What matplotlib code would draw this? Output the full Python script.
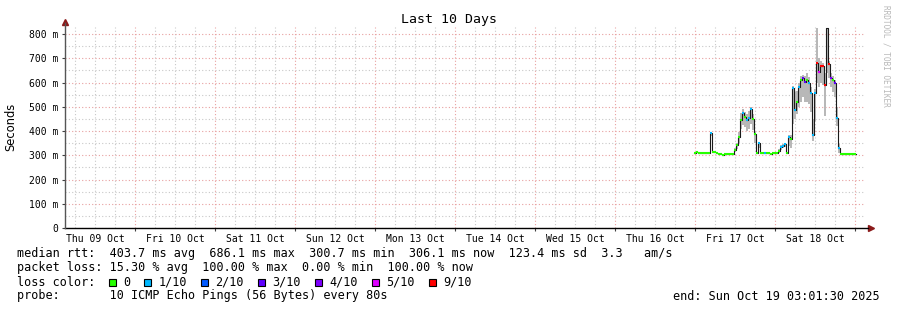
import matplotlib
matplotlib.use("Agg")
from matplotlib import pyplot as plt
from matplotlib.patches import Rectangle
from matplotlib.ticker import MultipleLocator, FuncFormatter
import numpy as np

# x axis in hours since Thu 09 Oct 00:00
t_start = 3.025     # Thu 09 Oct 03:01:30
t_end = 243.025     # Sun 19 Oct 03:01:30
day_labels = ["Thu 09 Oct", "Fri 10 Oct", "Sat 11 Oct", "Sun 12 Oct", "Mon 13 Oct",
              "Tue 14 Oct", "Wed 15 Oct", "Thu 16 Oct", "Fri 17 Oct", "Sat 18 Oct"]

# samples, one every 36 minutes from 191.7 h
t0 = 191.7
step = 0.6
median = [310, 312, 310, 311, 309, 308, 309, 310, 390, 312,
          313, 309, 307, 305, 302, 306, 305, 306, 305, 304,
          322, 342, 377, 445, 475, 459, 445, 455, 489, 450,
          388, 308, 349, 308, 308, 310, 308, 310, 306, 308,
          309, 308, 318, 335, 340, 346, 308, 377, 366, 576,
          487, 520, 583, 610, 617, 603, 612, 600, 555, 383,
          555, 682, 645, 668, 668, 590, 823, 675, 618, 610,
          597, 455, 330, 306, 305, 306, 305, 306, 305, 306, 305]
smoke_lo = [308, 308, 307, 308, 306, 305, 306, 307, 380, 309,
            310, 306, 304, 302, 299, 303, 302, 303, 302, 301,
            315, 325, 350, 410, 425, 415, 400, 410, 430, 405,
            350, 305, 330, 305, 305, 306, 305, 307, 303, 305,
            306, 305, 310, 322, 328, 335, 305, 340, 330, 430,
            450, 470, 500, 520, 540, 520, 520, 510, 480, 360,
            440, 600, 580, 600, 590, 460, 640, 620, 580, 560,
            540, 420, 310, 303, 302, 303, 302, 303, 302, 303, 302]
smoke_hi = [314, 314, 313, 314, 312, 311, 312, 313, 395, 316,
            316, 312, 310, 308, 305, 309, 308, 309, 308, 307,
            330, 352, 395, 475, 492, 480, 470, 482, 500, 470,
            400, 312, 355, 312, 312, 314, 312, 314, 310, 312,
            313, 312, 325, 342, 348, 352, 312, 385, 385, 585,
            560, 565, 600, 625, 632, 625, 640, 622, 580, 450,
            575, 823, 700, 690, 682, 640, 823, 690, 640, 625,
            610, 500, 345, 310, 309, 309, 308, 309, 308, 309, 308]
# lost pings out of 10 (10 = no median colour)
loss = [0, 0, 0, 0, 0, 0, 0, 0, 1, 0,
        0, 0, 0, 0, 0, 0, 0, 0, 0, 0,
        0, 0, 0, 0, 1, 0, 1, 1, 1, 0,
        0, 0, 1, 0, 0, 1, 0, 0, 0, 0,
        0, 0, 0, 1, 1, 1, 0, 1, 0, 1,
        1, 0, 1, 0, 3, 3, 0, 1, 1, 1,
        1, 9, 5, 9, 9, 9, 10, 9, 4, 0,
        3, 1, 1, 0, 0, 0, 0, 0, 0, 0, 0]

loss_colors = {0: "#26ff00", 1: "#00b8ff", 2: "#0059ff", 3: "#5e00ff",
               4: "#7e00ff", 5: "#dd00ff", 9: "#ff0000"}
loss_names = ["0", "1/10", "2/10", "3/10", "4/10", "5/10", "9/10"]

stats_rtt = "median rtt:  403.7 ms avg  686.1 ms max  300.7 ms min  306.1 ms now  123.4 ms sd  3.3   am/s"
stats_loss = "packet loss: 15.30 % avg  100.00 % max  0.00 % min  100.00 % now"
probe = "probe:       10 ICMP Echo Pings (56 Bytes) every 80s"
end_text = "end: Sun Oct 19 03:01:30 2025"

W, H = 897, 310
mono = "DejaVu Sans Mono"

fig = plt.figure(figsize=(W / 100, H / 100), dpi=100)
fig.patch.set_facecolor("white")
ax = fig.add_axes([65 / W, 1 - 228 / H, 800 / W, 201 / H])
ax.set_xlim(t_start, t_end)
ax.set_ylim(0, 829)

t = t0 + step * np.arange(len(median))
t_edges = np.append(t, t[-1] + step)

ax.fill_between(t_edges, smoke_lo + [smoke_lo[-1]], smoke_hi + [smoke_hi[-1]],
                step="post", color="#b8b8b8", lw=0, zorder=2)
ax.step(t_edges, median + [median[-1]], where="post", color="#1a1a1a", lw=0.8, zorder=3)
for ti, m, l in zip(t, median, loss):
    if l in loss_colors:
        ax.hlines(m, ti, ti + step, colors=loss_colors[l], lw=1.5, zorder=4)

# grid
ax.xaxis.set_major_locator(MultipleLocator(24))
ax.xaxis.set_minor_locator(MultipleLocator(6))
ax.yaxis.set_major_locator(MultipleLocator(100))
ax.yaxis.set_minor_locator(MultipleLocator(50))
ax.grid(which="major", color="#e8a0a0", linestyle=(0, (1, 2)), lw=0.8, zorder=1)
ax.grid(which="minor", color="#c8c8c8", linestyle=(0, (1, 2)), lw=0.8, zorder=1)
ax.set_axisbelow(True)


def day_fmt(v, pos):
    if round(v) % 24 == 12:
        i = int(v // 24)
        if 0 <= i < len(day_labels):
            return day_labels[i]
    return ""


ax.xaxis.set_major_formatter(FuncFormatter(lambda v, p: ""))
ax.xaxis.set_minor_formatter(FuncFormatter(day_fmt))
ax.yaxis.set_major_formatter(FuncFormatter(lambda v, p: "0" if v == 0 else f"{int(v)} m"))
ax.tick_params(axis="x", which="major", length=2, color="#404040")
ax.tick_params(axis="x", which="minor", length=0, pad=4, labelsize=7)
ax.tick_params(axis="y", which="major", length=2, pad=3, labelsize=7, color="#404040")
ax.tick_params(axis="y", which="minor", length=0)
for lab in ax.get_xticklabels(minor=True) + ax.get_yticklabels():
    lab.set_family(mono)

for s in ["top", "right", "left", "bottom"]:
    ax.spines[s].set_visible(False)
ax.plot([0, 1.004], [0, 0], transform=ax.transAxes, color="black", lw=1, clip_on=False, zorder=5)
ax.plot([0, 0], [0, 1.02], transform=ax.transAxes, color="#555555", lw=1, clip_on=False, zorder=5)
ax.plot([1.007], [0], transform=ax.transAxes, marker=">", ms=4, color="#8b1a1a", clip_on=False)
ax.plot([0], [1.027], transform=ax.transAxes, marker="^", ms=4, color="#8b1a1a", clip_on=False)

fig.text(0.5, 1 - 19 / H, "Last 10 Days", ha="center", va="center", family=mono, fontsize=9.5)
fig.text(11 / W, 1 - 127 / H, "Seconds", rotation=90, ha="center", va="center",
         family="DejaVu Sans", fontsize=8.3)
fig.text(886 / W, 1 - 5 / H, "RRDTOOL / TOBI OETIKER", rotation=-90, ha="center", va="top",
         family=mono, fontsize=5.6, color="#b8b8b8")

# legend rows
x_text = 16.5
cw = 7.107
rows_y = [254, 268, 282, 296]
fs = 8.5
fig.text(x_text / W, 1 - rows_y[0] / H, stats_rtt, family=mono, fontsize=fs, va="center")
fig.text(x_text / W, 1 - rows_y[1] / H, stats_loss, family=mono, fontsize=fs, va="center")
fig.text(x_text / W, 1 - rows_y[2] / H, "loss color:", family=mono, fontsize=fs, va="center")
c = 13
for key, name in zip(loss_colors, loss_names):
    xs = x_text + c * cw
    fig.add_artist(Rectangle((xs / W, 1 - (rows_y[2] + 4) / H), 7 / W, 7 / H,
                             transform=fig.transFigure, facecolor=loss_colors[key],
                             edgecolor="black", lw=0.8))
    fig.text((xs + 2 * cw) / W, 1 - rows_y[2] / H, name, family=mono, fontsize=fs, va="center")
    c += 2 + len(name) + 2
fig.text(x_text / W, 1 - rows_y[3] / H, probe, family=mono, fontsize=fs, va="center")
fig.text(880 / W, 1 - rows_y[3] / H, end_text, family=mono, fontsize=fs, va="center", ha="right")

fig.savefig("out.png", dpi=100)
